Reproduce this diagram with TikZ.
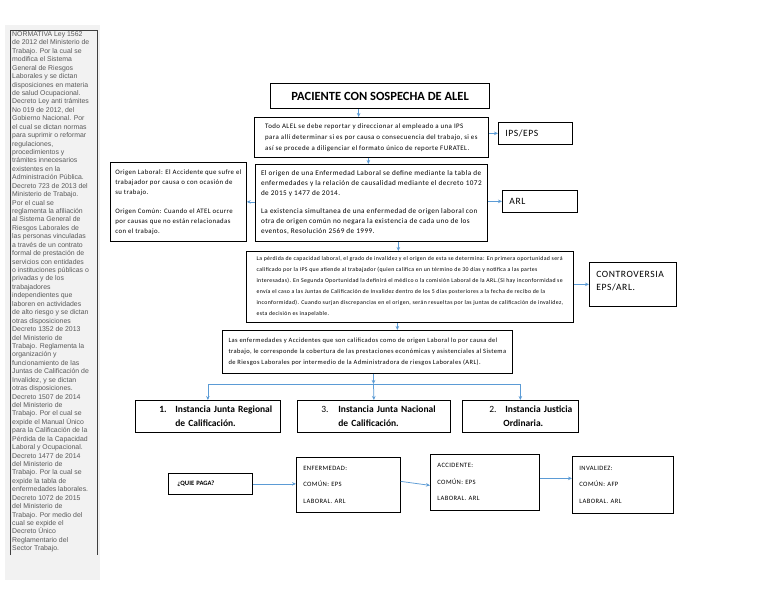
\documentclass[tikz,border=0pt]{standalone}
\usepackage{fontspec}
\setmainfont{Carlito}
\newfontfamily\sidefont{Liberation Sans}
\newfontfamily\spc[LetterSpace=6.0]{Carlito}
\usetikzlibrary{arrows.meta}
\definecolor{arrowblue}{HTML}{5B9BD5}
\definecolor{sidebg}{HTML}{F2F2F2}
\definecolor{sidetext}{HTML}{595959}
\definecolor{sideline}{HTML}{3F3F3F}
\begin{document}
\begin{tikzpicture}[x=1pt,y=-1pt,
  box/.style={draw=black,line width=0.75pt,anchor=north west,inner xsep=3pt,inner ysep=0pt,align=left},
  lbox/.style={box,inner xsep=7pt},
  conn/.style={draw=arrowblue,line width=0.75pt,-{Stealth[length=4pt,width=3.5pt]}},
  txtA/.style={font=\spc\fontsize{6.9}{11}\selectfont},
  txtB/.style={font=\spc\fontsize{7.2}{10}\selectfont},
  txtL/.style={font=\spc\fontsize{6.8}{10}\selectfont},
  txtC/.style={font=\spc\fontsize{5.8}{11}\selectfont},
  txtD/.style={font=\spc\fontsize{6.5}{11}\selectfont},
  inst/.style={box,inner xsep=0pt,font=\bfseries\fontsize{9.5}{14}\selectfont},
  mid/.style={font=\spc\fontsize{9.6}{14}\selectfont},
  bot/.style={lbox,font=\spc\fontsize{6.6}{16.5}\selectfont},
]
\fill[white] (0,0) rectangle (768,594);
\useasboundingbox (0,0) rectangle (768,594);

% sidebar
\fill[sidebg] (5,25) rectangle (100,580);
\draw[sideline,line width=0.8pt] (10,555) -- (10,30) -- (97,30) -- (97,555);
\node[anchor=north west,inner sep=0pt,align=left,text=sidetext,
      font=\sidefont\fontsize{6.9}{8.43}\selectfont] (norm) at (12,31.5) {%
NORMATIVA Ley 1562\\
de 2012 del Ministerio de\\
Trabajo. Por la cual se\\
modifica el Sistema\\
General de Riesgos\\
Laborales y se dictan\\
disposiciones en materia\\
de salud Ocupacional.\\
Decreto Ley anti trámites\\
No 019 de 2012, del\\
Gobierno Nacional. Por\\
el cual se dictan normas\\
para suprimir o reformar\\
regulaciones,\\
procedimientos y\\
trámites innecesarios\\
existentes en la\\
Administración Pública.\\
Decreto 723 de 2013 del\\
Ministerio de Trabajo.\\
Por el cual se\\
reglamenta la afiliación\\
al Sistema General de\\
Riesgos Laborales de\\
las personas vinculadas\\
a través de un contrato\\
formal de prestación de\\
servicios con entidades\\
o instituciones públicas o\\
privadas y de los\\
trabajadores\\
independientes que\\
laboren en actividades\\
de alto riesgo y se dictan\\
otras disposiciones\\
Decreto 1352 de 2013\\
del Ministerio de\\
Trabajo. Reglamenta la\\
organización y\\
funcionamiento de las\\
Juntas de Calificación de\\
Invalidez, y se dictan\\
otras disposiciones.\\
Decreto 1507 de 2014\\
del Ministerio de\\
Trabajo. Por el cual se\\
expide el Manual Único\\
para la Calificación de la\\
Pérdida de la Capacidad\\
Laboral y Ocupacional.\\
Decreto 1477 de 2014\\
del Ministerio de\\
Trabajo. Por la cual se\\
expide la tabla de\\
enfermedades laborales.\\
Decreto 1072 de 2015\\
del Ministerio de\\
Trabajo. Por medio del\\
cual se expide el\\
Decreto Único\\
Reglamentario del\\
Sector Trabajo.};

% title
\node[box,line width=1.3pt,minimum width=219pt,minimum height=25pt,
      font=\bfseries\fontsize{12.5}{14}\selectfont] (title) at (270,83) {PACIENTE CON SOSPECHA DE ALEL};

% box2
\node[box,txtA,minimum width=234pt,minimum height=40pt] (todo) at (254,117)
{Todo ALEL se debe reportar y direccionar al empleado a una IPS\\
para allí determinar si es por causa o consecuencia del trabajo, si es\\
así se procede a diligenciar el formato único de reporte FURATEL.};

\node[lbox,mid,text width=60pt,minimum height=22pt] (ips) at (498,122) {IPS/EPS};

% box3
\node[box,txtB,minimum width=232pt,minimum height=77pt] (origen) at (255,164)
{El origen de una Enfermedad Laboral se define mediante la tabla de\\
enfermedades y la relación de causalidad mediante el decreto 1072\\
de 2015 y 1477 de 2014.\\[8pt]
La existencia simultanea de una enfermedad de origen laboral con\\
otra de origen común no negara la existencia de cada uno de los\\
eventos, Resolución 2569 de 1999.};

% left box
\node[box,txtL,minimum width=136pt,minimum height=79pt] (tipos) at (110,162)
{Origen Laboral: El Accidente que sufre el\\
trabajador por causa o con ocasión de\\
su trabajo.\\[9pt]
Origen Común: Cuando el ATEL ocurre\\
por causas que no están relacionadas\\
con el trabajo.};

\node[lbox,mid,text width=61pt,minimum height=22pt] (arl) at (502,190) {ARL};

% box4
\node[box,txtC,minimum width=327pt,minimum height=71pt] (perdida) at (246,251)
{La pérdida de capacidad laboral, el grado de invalidez y el origen de esta se determina: En primera oportunidad será\\
calificado por la IPS que atiende al trabajador (quien califica en un término de 30 días y notifica a las partes\\
interesadas). En Segunda Oportunidad la definirá el médico o la comisión Laboral de la ARL.(Si hay inconformidad se\\
envía el caso a las Juntas de Calificación de Invalidez dentro de los 5 días posteriores a la fecha de recibo de la\\
inconformidad). Cuando surjan discrepancias en el origen, serán resueltas por las juntas de calificación de invalidez,\\
esta decisión es inapelable.};

\node[lbox,font=\spc\fontsize{9.6}{13.5}\selectfont,text width=73pt,minimum height=44pt] (contro) at (589,262) {CONTROVERSIA\\EPS/ARL.\\[-7pt]\mbox{}};

% box5
\node[box,txtD,minimum width=290pt,minimum height=43pt] (cobertura) at (222,330)
{Las enfermedades y Accidentes que son calificados como de origen Laboral lo por causa del\\
trabajo, le corresponde la cobertura de las prestaciones económicas y asistenciales al Sistema\\
de Riesgos Laborales por intermedio de la Administradora de riesgos Laborales (ARL).};

% instancias
\node[inst,text width=145pt,minimum height=32pt] (inst1) at (135,400)
{\mbox{\hspace*{24pt}\makebox[16pt][l]{1.}Instancia Junta Regional}\\\mbox{\hspace*{40pt}de Calificación.}};
\node[inst,text width=153pt,minimum height=32pt] (inst3) at (297,400)
{\mbox{\hspace*{24pt}\makebox[17pt][l]{\mdseries 3.}Instancia Junta Nacional}\\\mbox{\hspace*{41pt}de Calificación.}};
\node[inst,text width=116pt,minimum height=32pt] (inst2) at (462,400)
{\mbox{\hspace*{27pt}\makebox[16pt][l]{\mdseries 2.}Instancia Justicia}\\\mbox{\hspace*{41pt}Ordinaria.}};

% bottom row
\node[box,inner xsep=9pt,text width=66pt,minimum height=21pt,
      font=\bfseries\fontsize{6.6}{8}\selectfont] (quien) at (168,473) {¿QUIE PAGA?};
\node[bot,text width=90pt,minimum height=55pt] (enf) at (296,457)
{ENFERMEDAD:\\COMÚN: EPS\\LABORAL. ARL};
\node[bot,text width=95pt,minimum height=56pt] (acc) at (430,454)
{ACCIDENTE:\\COMÚN: EPS\\LABORAL. ARL};
\node[bot,text width=87pt,minimum height=57pt] (inv) at (572,456)
{INVALIDEZ:\\COMÚN: AFP\\LABORAL. ARL};

% connectors
\draw[conn] ([xshift=-21.5pt]title.south) -- ([xshift=-21.5pt]title.south |- todo.north);
\draw[conn] (ips.west -| todo.east) -- (ips.west);
\draw[conn] ([xshift=-3pt]todo.south) -- ([xshift=-3pt]todo.south |- origen.north);
\draw[conn] (tipos.east -| origen.west) -- (tipos.east);
\draw[conn] (arl.west -| origen.east) -- (arl.west);
\draw[conn] ([xshift=27pt]origen.south) -- ([xshift=27pt]origen.south |- perdida.north);
\draw[conn] (contro.west -| perdida.east) -- (contro.west);
\draw[conn] ([xshift=-12.5pt]perdida.south) -- ([xshift=-12.5pt]perdida.south |- cobertura.north);
\coordinate (hub) at (373.5,384);
\draw[conn] (cobertura.south -| hub) -- (hub);
\draw[conn] (hub) -- (inst3.north);
\draw[conn] (hub) -| (inst1.north);
\draw[conn] (hub) -| (inst2.north);
\draw[conn] (quien.east) -- (quien.east -| enf.west);
\draw[conn] ([yshift=3.5pt]enf.east) -- ([yshift=-3pt]acc.west);
\draw[conn] ([yshift=4pt]acc.east) -- ([yshift=4pt]acc.east -| inv.west);
\end{tikzpicture}
\end{document}
